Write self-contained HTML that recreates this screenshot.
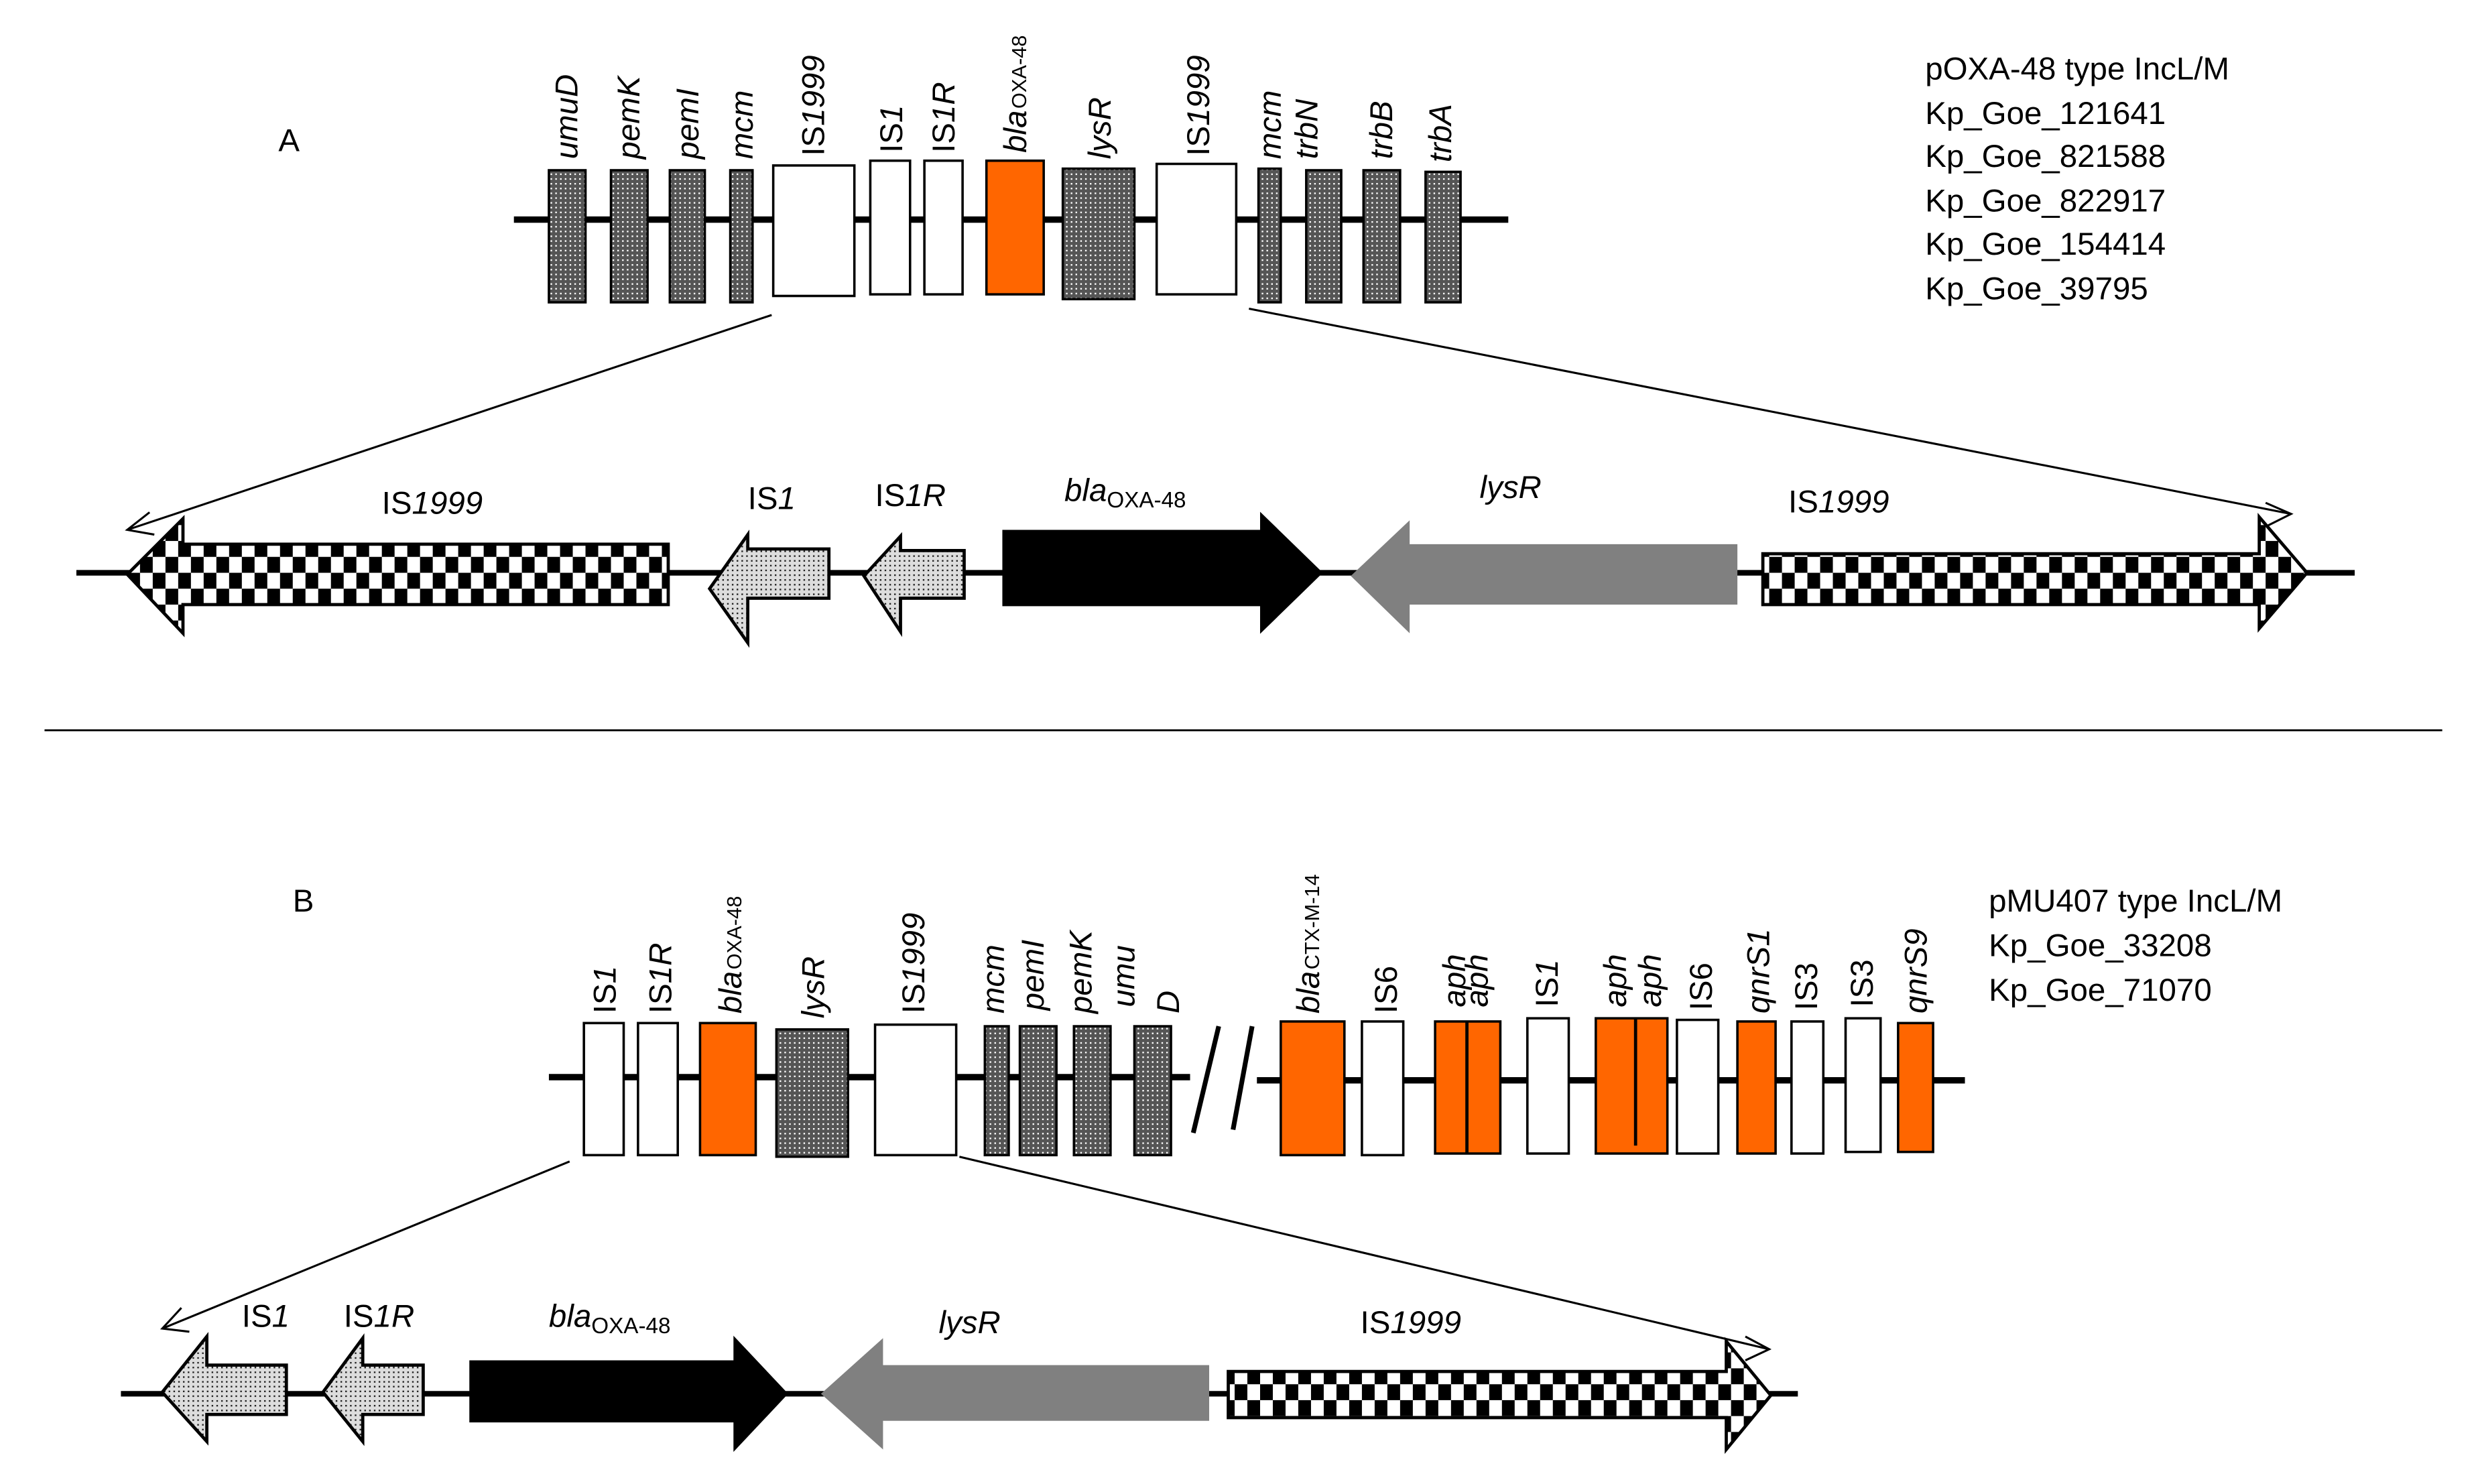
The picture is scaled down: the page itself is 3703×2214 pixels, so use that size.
<!DOCTYPE html>
<html><head><meta charset="utf-8"><style>
html,body{margin:0;padding:0;background:#fff;}
svg{display:block;}
text{font-family:"Liberation Sans",sans-serif;}
.rl{font-style:italic;font-size:20px;}
.lb{font-size:20px;}
</style></head><body>
<svg width="3703" height="2214" viewBox="0 0 1560 932.7" preserveAspectRatio="none" xmlns="http://www.w3.org/2000/svg">
<defs>
<pattern id="chk" width="16" height="20" patternUnits="userSpaceOnUse">
<rect width="16" height="20" fill="#fff"/><rect x="0" y="0" width="8" height="10" fill="#000"/><rect x="8" y="10" width="8" height="10" fill="#000"/>
</pattern>
<pattern id="hat" width="3" height="3" patternUnits="userSpaceOnUse">
<rect width="3" height="3" fill="#555"/><rect x="1" y="1" width="1" height="1" fill="#fff"/>
</pattern>
<pattern id="dot" width="3" height="3" patternUnits="userSpaceOnUse">
<rect width="3" height="3" fill="#ddd"/><rect x="1" y="1" width="1" height="1" fill="#222"/>
</pattern>
</defs>
<rect width="1560" height="933" fill="#fff"/>

<!-- A -->
<text x="175" y="95" class="lb">A</text>
<g class="lb">
<text x="1210" y="50">pOXA-48 type IncL/M</text>
<text x="1210" y="78">Kp_Goe_121641</text>
<text x="1210" y="105">Kp_Goe_821588</text>
<text x="1210" y="133">Kp_Goe_822917</text>
<text x="1210" y="160">Kp_Goe_154414</text>
<text x="1210" y="188">Kp_Goe_39795</text>
</g>
<line x1="323" y1="138" x2="948" y2="138" stroke="#000" stroke-width="4"/>
<g stroke="#000" stroke-width="1.5">
<rect x="345" y="107" width="23" height="83" fill="url(#hat)"/>
<rect x="384" y="107" width="23" height="83" fill="url(#hat)"/>
<rect x="421" y="107" width="22" height="83" fill="url(#hat)"/>
<rect x="459" y="107" width="14" height="83" fill="url(#hat)"/>
<rect x="486" y="104" width="51" height="82" fill="#fff"/>
<rect x="547" y="101" width="25" height="84" fill="#fff"/>
<rect x="581" y="101" width="24" height="84" fill="#fff"/>
<rect x="620" y="101" width="36" height="84" fill="#ff6600"/>
<rect x="668" y="106" width="45" height="82" fill="url(#hat)"/>
<rect x="727" y="103" width="50" height="82" fill="#fff"/>
<rect x="791" y="106" width="14" height="84" fill="url(#hat)"/>
<rect x="821" y="107" width="22" height="83" fill="url(#hat)"/>
<rect x="857" y="107" width="23" height="83" fill="url(#hat)"/>
<rect x="896" y="108" width="22" height="82" fill="url(#hat)"/>
</g>
<g class="rl">
<text transform="translate(363,100) rotate(-90)">umuD</text>
<text transform="translate(402,100) rotate(-90)">pemK</text>
<text transform="translate(439,100) rotate(-90)">pemI</text>
<text transform="translate(473,100) rotate(-90)">mcm</text>
<text transform="translate(518,98) rotate(-90)" style="font-style:normal">IS<tspan font-style="italic">1999</tspan></text>
<text transform="translate(567,96) rotate(-90)" style="font-style:normal">IS<tspan font-style="italic">1</tspan></text>
<text transform="translate(600,96) rotate(-90)" style="font-style:normal">IS<tspan font-style="italic">1R</tspan></text>
<text transform="translate(645,96) rotate(-90)">bla<tspan font-style="normal" font-size="13" dx="1">OXA-48</tspan></text>
<text transform="translate(698,100) rotate(-90)">lysR</text>
<text transform="translate(760,98) rotate(-90)" style="font-style:normal">IS<tspan font-style="italic">1999</tspan></text>
<text transform="translate(805,100) rotate(-90)">mcm</text>
<text transform="translate(828,100) rotate(-90)">trbN</text>
<text transform="translate(875,100) rotate(-90)">trbB</text>
<text transform="translate(912,102) rotate(-90)">trbA</text>
</g>
<g stroke="#000" stroke-width="1.3" fill="none">
<line x1="485" y1="198" x2="80" y2="333"/>
<polyline points="94,322 80,333 97,336"/>
<line x1="785" y1="194" x2="1440" y2="323"/>
<polyline points="1424,316 1440,323 1424,331"/>
</g>
<line x1="48" y1="360" x2="1480" y2="360" stroke="#000" stroke-width="3.5"/>
<g stroke="#000" stroke-width="2">
<polygon points="80,361 115,326 115,342 420,342 420,380 115,380 115,398" fill="url(#chk)"/>
<polygon points="446,370 470,336 470,345 521,345 521,376 470,376 470,404" fill="url(#dot)"/>
<polygon points="543,362 566,337 566,346 606,346 606,376 566,376 566,397" fill="url(#dot)"/>
<polygon points="631,334 793,334 793,324 830,360 793,396 793,380 631,380" fill="#000"/>
<polygon points="1108,348 1420,348 1420,325 1450,360 1420,395 1420,380 1108,380" fill="url(#chk)"/>
</g>
<polygon points="849,362 886,327 886,342 1092,342 1092,380 886,380 886,398" fill="#808080"/>
<g class="lb">
<text x="240" y="323">IS<tspan font-style="italic">1999</tspan></text>
<text x="470" y="320">IS<tspan font-style="italic">1</tspan></text>
<text x="550" y="318">IS<tspan font-style="italic">1R</tspan></text>
<text x="669" y="315" font-style="italic">bla<tspan font-style="normal" font-size="14" dy="4">OXA-48</tspan></text>
<text x="930" y="313" font-style="italic">lysR</text>
<text x="1124" y="322">IS<tspan font-style="italic">1999</tspan></text>
</g>

<line x1="28" y1="459" x2="1535" y2="459" stroke="#000" stroke-width="1.2"/>

<!-- B -->
<text x="184" y="573" class="lb">B</text>
<g class="lb">
<text x="1250" y="573">pMU407 type IncL/M</text>
<text x="1250" y="601">Kp_Goe_33208</text>
<text x="1250" y="629">Kp_Goe_71070</text>
</g>
<line x1="345" y1="677" x2="748" y2="677" stroke="#000" stroke-width="4"/>
<line x1="790" y1="679" x2="1235" y2="679" stroke="#000" stroke-width="4"/>
<g stroke="#000" stroke-width="3">
<line x1="766" y1="645" x2="750" y2="712"/>
<line x1="787" y1="645" x2="775" y2="710"/>
</g>
<g stroke="#000" stroke-width="1.5">
<rect x="367" y="643" width="25" height="83" fill="#fff"/>
<rect x="401" y="643" width="25" height="83" fill="#fff"/>
<rect x="440" y="643" width="35" height="83" fill="#ff6600"/>
<rect x="488" y="647" width="45" height="80" fill="url(#hat)"/>
<rect x="550" y="644" width="51" height="82" fill="#fff"/>
<rect x="619" y="645" width="15" height="81" fill="url(#hat)"/>
<rect x="641" y="645" width="23" height="81" fill="url(#hat)"/>
<rect x="675" y="645" width="23" height="81" fill="url(#hat)"/>
<rect x="713" y="645" width="23" height="81" fill="url(#hat)"/>
<rect x="805" y="642" width="40" height="84" fill="#ff6600"/>
<rect x="856" y="642" width="26" height="84" fill="#fff"/>
<rect x="902" y="642" width="41" height="83" fill="#ff6600"/>
<rect x="960" y="640" width="26" height="85" fill="#fff"/>
<rect x="1003" y="640" width="45" height="85" fill="#ff6600"/>
<rect x="1054" y="641" width="26" height="84" fill="#fff"/>
<rect x="1092" y="642" width="24" height="83" fill="#ff6600"/>
<rect x="1126" y="642" width="20" height="83" fill="#fff"/>
<rect x="1160" y="640" width="22" height="84" fill="#fff"/>
<rect x="1193" y="643" width="22" height="81" fill="#ff6600"/>
</g>
<line x1="922" y1="642" x2="922" y2="725" stroke="#000" stroke-width="2"/>
<line x1="1028" y1="640" x2="1028" y2="720" stroke="#000" stroke-width="2"/>
<g class="rl">
<text transform="translate(387,637) rotate(-90)" style="font-style:normal">IS<tspan font-style="italic">1</tspan></text>
<text transform="translate(422,637) rotate(-90)" style="font-style:normal">IS<tspan font-style="italic">1R</tspan></text>
<text transform="translate(466,637) rotate(-90)">bla<tspan font-style="normal" font-size="13" dx="1">OXA-48</tspan></text>
<text transform="translate(518,640) rotate(-90)">lysR</text>
<text transform="translate(581,637) rotate(-90)" style="font-style:normal">IS<tspan font-style="italic">1999</tspan></text>
<text transform="translate(631,637) rotate(-90)">mcm</text>
<text transform="translate(656,635) rotate(-90)">pemI</text>
<text transform="translate(686,637) rotate(-90)">pemK</text>
<text transform="translate(713,633) rotate(-90)">umu</text>
<text transform="translate(741,637) rotate(-90)">D</text>
<text transform="translate(829,637) rotate(-90)">bla<tspan font-style="normal" font-size="13" dx="1">CTX-M-14</tspan></text>
<text transform="translate(878,637) rotate(-90)" style="font-style:normal">IS6</text>
<text transform="translate(921,633) rotate(-90)">aph</text>
<text transform="translate(935,633) rotate(-90)">aph</text>
<text transform="translate(979,633) rotate(-90)" style="font-style:normal">IS<tspan font-style="italic">1</tspan></text>
<text transform="translate(1022,633) rotate(-90)">aph</text>
<text transform="translate(1044,633) rotate(-90)">aph</text>
<text transform="translate(1076,635) rotate(-90)" style="font-style:normal">IS6</text>
<text transform="translate(1112,637) rotate(-90)">qnrS1</text>
<text transform="translate(1142,635) rotate(-90)" style="font-style:normal">IS3</text>
<text transform="translate(1177,633) rotate(-90)" style="font-style:normal">IS3</text>
<text transform="translate(1211,637) rotate(-90)">qnrS9</text>
</g>
<g stroke="#000" stroke-width="1.3" fill="none">
<line x1="358" y1="730" x2="102" y2="835"/>
<polyline points="114,822 102,835 119,837"/>
<line x1="603" y1="727" x2="1112" y2="848"/>
<polyline points="1097,840 1112,848 1097,855"/>
</g>
<line x1="76" y1="876" x2="1130" y2="876" stroke="#000" stroke-width="3.5"/>
<g stroke="#000" stroke-width="2">
<polygon points="102,875 130,840 130,858 180,858 180,889 130,889 130,906" fill="url(#dot)"/>
<polygon points="203,875 228,841 228,858 266,858 266,889 228,889 228,906" fill="url(#dot)"/>
<polygon points="296,856 462,856 462,842 494,876 462,910 462,893 296,893" fill="#000"/>
<polygon points="772,862 1085,862 1085,843 1113,877 1085,911 1085,891 772,891" fill="url(#chk)"/>
</g>
<polygon points="516,876 555,841 555,858 760,858 760,893 555,893 555,911" fill="#808080"/>
<g class="lb">
<text x="152" y="834">IS<tspan font-style="italic">1</tspan></text>
<text x="216" y="834">IS<tspan font-style="italic">1R</tspan></text>
<text x="345" y="834" font-style="italic">bla<tspan font-style="normal" font-size="14" dy="4">OXA-48</tspan></text>
<text x="590" y="838" font-style="italic">lysR</text>
<text x="855" y="838">IS<tspan font-style="italic">1999</tspan></text>
</g>
</svg>
</body></html>
